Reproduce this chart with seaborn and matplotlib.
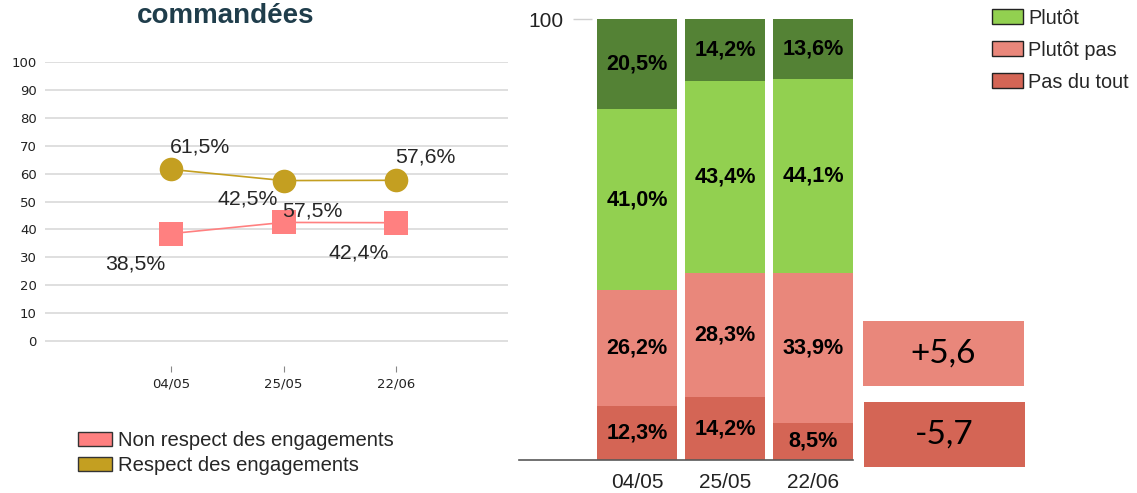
import matplotlib
matplotlib.use('Agg')
import matplotlib.pyplot as plt
from matplotlib.patches import Patch, Rectangle
import seaborn as sns
import numpy as np
import pandas as pd

# data
dates = ['04/05', '25/05', '22/06']
respect = [61.5, 57.5, 57.6]
non_respect = [38.5, 42.5, 42.4]
respect_labels = ['61,5%', '57,5%', '57,6%']
non_respect_labels = ['38,5%', '42,5%', '42,4%']

pas_du_tout = [12.3, 14.2, 8.5]
plutot_pas = [26.2, 28.3, 33.9]
plutot = [41.0, 43.4, 44.1]
tout_a_fait = [20.5, 14.2, 13.6]
deltas = ['+5,6', '-5,7']

title_text = 'commandées'

W, H = 1137, 493
gold = '#C49F21'
pink = '#FF8080'
dark_green = '#548235'
light_green = '#92D050'
salmon = '#E9877B'
red = '#D46555'


def px_box(x0, y0, x1, y1):
    return [x0 / W, 1 - y1 / H, (x1 - x0) / W, (y1 - y0) / H]


sns.set_theme(style='white')
plt.rcParams['font.family'] = ['Liberation Sans', 'DejaVu Sans']

fig = plt.figure(figsize=(W / 100, H / 100), dpi=100)

# ---- left chart: line chart
ax1 = fig.add_axes(px_box(45, 62, 508, 366))
sns.lineplot(x=dates, y=non_respect, marker='s', markersize=17.5, markeredgewidth=0,
             color=pink, linewidth=1.2, ax=ax1)
sns.lineplot(x=dates, y=respect, marker='o', markersize=17, markeredgewidth=0,
             color=gold, linewidth=1.2, ax=ax1)

resp_off = [(21, 16), (21, -22), (21, 17)]
non_off = [(-26, -22), (-26, 17), (-26.5, -21.5)]
for i in range(len(dates)):
    ax1.annotate(respect_labels[i], (i, respect[i]), xytext=resp_off[i],
                 textcoords='offset points', ha='center', va='center', fontsize=15.3)
    ax1.annotate(non_respect_labels[i], (i, non_respect[i]), xytext=non_off[i],
                 textcoords='offset points', ha='center', va='center', fontsize=15.3)

ax1.set_xlim(-1.125, 3.0)
ax1.set_ylim(-8.96, 100)
ax1.set_yticks(np.arange(0, 101, 10))
ax1.yaxis.grid(True, color='#D9D9D9', linewidth=1.2)
ax1.xaxis.grid(False)
for s in ax1.spines.values():
    s.set_visible(False)
ax1.tick_params(axis='y', length=0, pad=6, labelsize=9.5, labelcolor='#222222')
ax1.tick_params(axis='x', bottom=True, length=4, width=0.8, color='#888888', pad=4,
                labelsize=9.5, labelcolor='#222222')
for lab in ax1.get_xticklabels() + ax1.get_yticklabels():
    lab.set_fontfamily('DejaVu Sans')
ax1.set_xlabel('')
ax1.set_ylabel('')

fig.text(226 / W, 1 - 16 / H, title_text, ha='center', va='center', fontsize=20,
         fontweight='bold', color='#1F3D4B')

left_handles = [Patch(facecolor=pink, edgecolor='#333333', linewidth=1),
                Patch(facecolor=gold, edgecolor='#333333', linewidth=1)]
fig.legend(left_handles, ['Non respect des engagements', 'Respect des engagements'],
           loc='upper left', bbox_to_anchor=(78 / W, 1 - 431 / H), frameon=False,
           fontsize=14.6, borderpad=0, borderaxespad=0, handlelength=1.69,
           handleheight=0.75, handletextpad=0.3, labelspacing=0.3)

# ---- right chart: stacked bars
ax2 = fig.add_axes(px_box(519, 19, 853, 460))
layers = [pas_du_tout, plutot_pas, plutot, tout_a_fait]
colors = [red, salmon, light_green, dark_green]
cum = np.cumsum(np.array(layers), axis=0)
df = pd.DataFrame({'date': dates})
for k in range(len(layers) - 1, -1, -1):
    df['top'] = cum[k]
    sns.barplot(data=df, x='date', y='top', color=colors[k], width=0.91,
                saturation=1, linewidth=0, errorbar=None, ax=ax2)

for k in range(len(layers)):
    bottoms = cum[k] - np.array(layers[k])
    for i in range(len(dates)):
        txt = f'{layers[k][i]:.1f}%'.replace('.', ',')
        ax2.text(i, bottoms[i] + layers[k][i] / 2, txt, ha='center', va='center',
                 fontsize=15.6, fontweight='bold', color='black')

ax2.set_xlim(-1.341, 2.4545)
ax2.set_ylim(0, 100)
ax2.set_yticks([100])
ax2.set_yticklabels(['100'])
ax2.spines['left'].set_position(('data', -0.511))
for name in ['left', 'top', 'right']:
    ax2.spines[name].set_visible(False)
ax2.spines['bottom'].set_color('#595959')
ax2.spines['bottom'].set_linewidth(1.2)
ax2.tick_params(axis='y', left=True, length=13.7, width=1, color='#D0D0D0', pad=6.5,
                labelsize=15, labelcolor='#222222')
ax2.tick_params(axis='x', length=0, pad=9, labelsize=15, labelcolor='#222222')
ax2.set_xlabel('')
ax2.set_ylabel('')
ax2.grid(False)

right_handles = [Patch(facecolor=c, edgecolor='#222222', linewidth=1)
                 for c in [light_green, salmon, red]]
fig.legend(right_handles, ['Plutôt', 'Plutôt pas', 'Pas du tout'],
           loc='upper left', bbox_to_anchor=(992 / W, 1 - 8.5 / H), frameon=False,
           fontsize=14.3, borderpad=0, borderaxespad=0, handlelength=1.56,
           handleheight=0.8, handletextpad=0.27, labelspacing=0.66)

# ---- change boxes
boxes = [((863, 321, 1024, 386), salmon), ((864, 402, 1025, 467), red)]
for (x0, y0, x1, y1), c in boxes:
    fig.add_artist(Rectangle((x0 / W, 1 - y1 / H), (x1 - x0) / W, (y1 - y0) / H,
                             transform=fig.transFigure, facecolor=c, edgecolor='none'))
for (box, c), d in zip(boxes, deltas):
    x0, y0, x1, y1 = box
    fig.text((x0 + x1) / 2 / W, 1 - (y0 + y1) / 2 / H, d, ha='center', va='center',
             fontsize=24, family='Lato', color='black')

fig.savefig('out.png', dpi=100)
